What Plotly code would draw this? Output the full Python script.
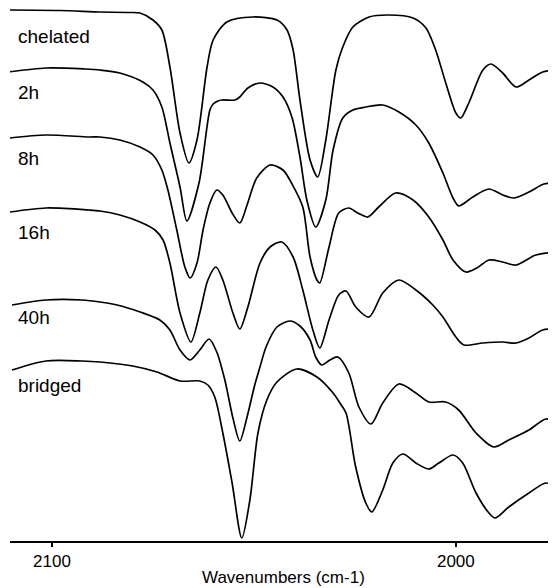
import plotly.graph_objects as go

# Wavenumbers (cm-1) and read intensities (arbitrary units, stacked) for each spectrum
chelated_wn = [2110.9, 2098.0, 2088.1, 2081.2, 2078.2, 2075.0, 2072.8, 2070.8, 2068.3, 2066.1,
               2064.1, 2061.6, 2060.1, 2056.7, 2050.2, 2044.3, 2041.8, 2040.3, 2038.6, 2036.1,
               2034.2, 2032.2, 2029.7, 2028.0, 2025.5, 2021.5, 2016.6, 2010.6, 2007.4, 2005.0,
               2002.5, 2000.0, 1998.8, 1996.8, 1993.3, 1991.3, 1988.4, 1985.1, 1981.9, 1978.5, 1975.2]
chelated_val = [531, 530.5, 529, 528.5, 528, 521, 511, 474, 408, 378,
                401, 474, 501, 519, 524, 521, 511, 491, 441, 381,
                364, 401, 471, 494, 514, 524, 526, 523, 513, 491,
                458, 428, 423, 438, 471, 477, 468, 454, 461, 469, 471]

h2_wn = [2110.9, 2101.5, 2091.8, 2088.1, 2083.2, 2077.5, 2075.0, 2072.8, 2070.8, 2068.3,
         2066.6, 2063.6, 2060.9, 2060.1, 2058.9, 2057.9, 2054.7, 2053.5, 2051.5, 2048.5,
         2045.3, 2042.8, 2040.6, 2038.6, 2036.9, 2034.7, 2032.2, 2030.4, 2028.0, 2025.5,
         2022.3, 2018.1, 2014.1, 2009.9, 2006.7, 2003.2, 2000.7, 1999.3, 1995.8, 1991.8,
         1988.4, 1985.6, 1981.9, 1978.2, 1975.2]
h2_val = [469, 473, 472, 471, 468, 459, 451, 434, 398, 354,
          320, 358, 431, 437, 440, 441, 441, 444, 453, 458,
          454, 444, 424, 384, 341, 314, 341, 391, 423, 431,
          434, 436, 429, 416, 398, 368, 343, 335, 344, 352,
          346, 343, 349, 357, 358]

h8_wn = [2110.4, 2101.5, 2090.8, 2088.1, 2083.2, 2078.2, 2075.0, 2072.8, 2071.3, 2069.1,
         2067.1, 2065.8, 2064.1, 2062.6, 2060.9, 2059.2, 2057.7, 2055.4, 2053.5, 2051.7,
         2049.3, 2046.0, 2042.8, 2040.3, 2037.9, 2036.1, 2034.4, 2033.7, 2031.4, 2029.0,
         2026.5, 2024.3, 2021.8, 2019.1, 2014.9, 2010.6, 2006.7, 2003.2, 2000.7, 1997.5,
         1994.8, 1991.8, 1988.4, 1985.1, 1980.2, 1975.2]
h8_val = [403, 406, 404, 404, 401, 394, 386, 371, 351, 311,
          274, 263, 278, 311, 338, 351, 346, 328, 318, 336,
          363, 376, 371, 355, 334, 284, 261, 258, 294, 328,
          333, 328, 324, 334, 348, 341, 324, 301, 281, 269,
          273, 281, 279, 276, 286, 289]

h16_wn = [2110.4, 2101.5, 2090.8, 2088.1, 2083.2, 2078.2, 2074.5, 2072.5, 2070.8, 2068.3,
          2065.6, 2063.4, 2061.4, 2059.4, 2057.7, 2055.2, 2053.5, 2051.5, 2048.5, 2046.0,
          2043.1, 2040.3, 2037.9, 2035.4, 2033.7, 2031.4, 2029.0, 2027.2, 2024.8, 2021.5,
          2018.1, 2014.1, 2009.9, 2005.7, 2003.2, 2000.0, 1998.0, 1993.3, 1988.4, 1985.1,
          1981.9, 1978.5, 1975.2]
h16_val = [329, 333, 331, 330, 326, 319, 311, 301, 278, 228,
           199, 228, 261, 274, 261, 228, 212, 234, 278, 294,
           299, 284, 251, 211, 193, 221, 246, 250, 234, 224,
           248, 261, 251, 236, 224, 204, 196, 198, 199, 198,
           203, 211, 212]

h40_wn = [2109.9, 2101.5, 2092.6, 2088.1, 2083.9, 2078.2, 2073.3, 2070.8, 2068.3, 2065.8,
          2063.4, 2061.1, 2059.2, 2057.2, 2055.2, 2053.5, 2051.7, 2049.8, 2048.5, 2047.0,
          2044.3, 2041.1, 2038.6, 2036.1, 2034.7, 2033.2, 2031.2, 2029.2, 2026.5, 2024.0,
          2021.0, 2018.1, 2014.1, 2009.9, 2006.7, 2002.5, 1999.3, 1995.0, 1990.6, 1986.9,
          1981.9, 1977.7, 1975.2]
h40_val = [236, 241, 241, 239, 236, 229, 221, 211, 191, 181,
           191, 202, 189, 161, 123, 100, 124, 156, 174, 194,
           214, 220, 215, 201, 184, 176, 181, 184, 168, 134,
           117, 138, 157, 148, 139, 139, 131, 108, 94, 101,
           111, 122, 119]

bridged_wn = [2109.9, 2101.5, 2092.6, 2088.1, 2080.0, 2074.0, 2068.3, 2063.4, 2061.4, 2059.7,
              2057.7, 2055.4, 2053.0, 2051.0, 2049.0, 2046.8, 2044.3, 2039.4, 2034.4, 2030.4,
              2028.7, 2027.2, 2024.8, 2022.3, 2020.8, 2018.1, 2015.6, 2013.1, 2009.9, 2006.7,
              2004.2, 2000.7, 1998.3, 1995.0, 1991.8, 1990.3, 1986.9, 1981.9, 1977.7, 1975.2]
bridged_val = [171, 180, 180, 179, 175, 169, 160, 160, 156, 144,
               108, 58, 3, 41, 108, 141, 159, 172, 164, 148,
               138, 128, 74, 38, 29, 51, 78, 87, 78, 72,
               78, 86, 78, 48, 28, 23, 34, 48, 58, 54]

series_names = ["chelated", "2h", "8h", "16h", "40h", "bridged"]
series_wn = [chelated_wn, h2_wn, h8_wn, h16_wn, h40_wn, bridged_wn]
series_val = [chelated_val, h2_val, h8_val, h16_val, h40_val, bridged_val]
label_levels = [505, 449, 383, 309, 224, 156]

tick_vals = [2100, 2000]
tick_text = ["2100", "2000"]
x_title = "Wavenumbers (cm-1)"

FONT = "Liberation Sans, Arial, Helvetica, sans-serif"

fig = go.Figure()
for name, wn, val in zip(series_names, series_wn, series_val):
    fig.add_trace(go.Scatter(x=wn, y=val, mode="lines", name=name,
                             line=dict(color="black", width=1.7, shape="spline", smoothing=0.8),
                             showlegend=False, hoverinfo="skip"))

for name, lev in zip(series_names, label_levels):
    fig.add_annotation(x=0.011, xref="paper", y=lev, yref="y", text=name,
                       showarrow=False, xanchor="left", yanchor="middle",
                       font=dict(family=FONT, size=19, color="black"))

# axis title placed as annotation just under the tick labels
fig.add_annotation(x=0.5, xref="paper", y=-0.0694, yref="paper", text=x_title,
                   showarrow=False, xanchor="center", yanchor="middle",
                   font=dict(family=FONT, size=17, color="black"))

# the page body adds an 8px margin, so the figure is sized to fill the window exactly
fig.update_layout(
    width=548, height=580,
    margin=dict(l=2, r=0, t=0, b=47),
    paper_bgcolor="white", plot_bgcolor="white",
    font=dict(family=FONT, color="black"),
    xaxis=dict(range=[2110.4, 1975.2], showgrid=False, zeroline=False,
               showline=True, linecolor="black", linewidth=2,
               ticks="outside", ticklen=4, tickwidth=2, tickcolor="black",
               tickvals=tick_vals, ticktext=tick_text,
               tickfont=dict(family=FONT, size=17, color="black"),
               automargin=False),
    yaxis=dict(range=[0, 533], visible=False, fixedrange=True),
)

fig.write_html("out.html")
